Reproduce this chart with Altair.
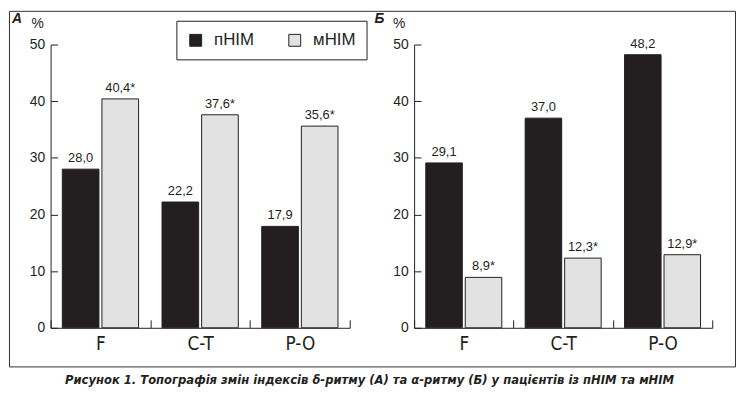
import altair as alt
import pandas as pd

categories = ["F", "C-T", "P-O"]
groups = ["пНІМ", "мНІМ"]
colors = ["#231f20", "#e2e2e2"]

a_pnim = [28.0, 22.2, 17.9]
a_mnim = [40.4, 37.6, 35.6]
a_pnim_labels = ["28,0", "22,2", "17,9"]
a_mnim_labels = ["40,4*", "37,6*", "35,6*"]

b_pnim = [29.1, 37.0, 48.2]
b_mnim = [8.9, 12.3, 12.9]
b_pnim_labels = ["29,1", "37,0", "48,2"]
b_mnim_labels = ["8,9*", "12,3*", "12,9*"]

y_ticks = [0, 10, 20, 30, 40, 50]
caption = "Рисунок 1. Топографія змін індексів δ-ритму (А) та α-ритму (Б) у пацієнтів із пНІМ та мНІМ"

W, H = 733, 359
Y_RANGE = [320, 34]
INK = "#231f20"
FONT = "Liberation Sans, Arial, sans-serif"
NARROW = "Liberation Sans Narrow, DejaVu Sans Condensed, Liberation Sans, sans-serif"


def frame(p, m, pl, ml):
    rows = []
    for c, v, l in zip(categories, p, pl):
        rows.append({"cat": c, "group": groups[0], "value": v, "label": l})
    for c, v, l in zip(categories, m, ml):
        rows.append({"cat": c, "group": groups[1], "value": v, "label": l})
    return pd.DataFrame(rows)


legend = alt.Legend(
    title=None, orient="none", legendX=169, legendY=10, direction="horizontal",
    strokeColor=INK, fillColor="white", padding=11,
    symbolType="square", symbolSize=144, symbolStrokeColor=INK, symbolStrokeWidth=1,
    labelFontSize=17, labelFont=FONT, labelColor=INK, labelOffset=10, columnPadding=32,
)
color = alt.Color("group:N", scale=alt.Scale(domain=groups, range=colors), sort=groups, legend=legend)


def panel(df, xrange, yaxis_x):
    xs = alt.Scale(domain=categories, range=xrange, paddingInner=0, paddingOuter=0)
    xos = alt.Scale(domain=groups, paddingInner=0.075, paddingOuter=0.296)
    band = (xrange[1] - xrange[0]) / 3.0
    step = band / 2.517
    xos_text = alt.Scale(type="point", domain=groups,
                         range=[0.296 * step + 0.4625 * step, 1.296 * step + 0.4625 * step],
                         padding=0)
    ys = alt.Scale(domain=[0, 50], range=Y_RANGE, nice=False, zero=True)
    bars = alt.Chart(df).mark_bar(stroke=INK, strokeWidth=1).encode(
        x=alt.X("cat:N", scale=xs, sort=categories,
                axis=alt.Axis(title=None, orient="bottom", offset=-39, domain=True, ticks=False,
                              labels=False, grid=False, domainColor=INK)),
        xOffset=alt.XOffset("group:N", scale=xos, sort=groups),
        y=alt.Y("value:Q", scale=ys,
                axis=alt.Axis(title=None, orient="left", offset=-yaxis_x, domain=True, ticks=False,
                              labels=False, grid=False, domainColor=INK)),
        color=color,
    )
    text = alt.Chart(df).mark_text(baseline="alphabetic", dy=-7, fontSize=13, font=FONT, color=INK).encode(
        x=alt.X("cat:N", scale=xs, sort=categories, bandPosition=0,
                axis=alt.Axis(title=None, orient="bottom", offset=-47, domain=False, ticks=True,
                              tickBand="extent", tickSize=8, tickColor=INK, labelPadding=7,
                              labelAngle=0, labelFontSize=19, labelFont=NARROW, labelColor=INK,
                              grid=False)),
        xOffset=alt.XOffset("group:N", scale=xos_text, sort=groups),
        y=alt.Y("value:Q", scale=ys,
                axis=alt.Axis(title=None, orient="left", offset=-(yaxis_x + 7), domain=False,
                              values=y_ticks, tickSize=7, tickColor=INK, labelPadding=6,
                              labelFontSize=14, labelFont=FONT, labelColor=INK, grid=False)),
        text="label:N",
    )
    return [bars, text]


def note(t, x, y, size, bold=True, italic=True, font=FONT):
    return alt.Chart(pd.DataFrame({"t": [t]})).mark_text(
        fontSize=size, font=font, fontWeight="bold" if bold else "normal",
        fontStyle="italic" if italic else "normal", color=INK, align="center", baseline="middle",
    ).encode(x=alt.value(x), y=alt.value(y), text="t:N")


df_a = frame(a_pnim, a_mnim, a_pnim_labels, a_mnim_labels)
df_b = frame(b_pnim, b_mnim, b_pnim_labels, b_mnim_labels)

layers = panel(df_a, [42, 344], 42) + panel(df_b, [409, 710], 409) + [
    note("А", 8, 8, 14),
    note("Б", 374, 8, 14),
    note("%", 29, 13, 14, bold=False, italic=False),
    note("%", 394, 13, 14, bold=False, italic=False),
    note(caption, 364, 373, 13, font=NARROW),
]

chart = alt.layer(*layers).resolve_scale(
    x="independent", y="independent", xOffset="independent"
).resolve_axis(x="independent", y="independent").properties(
    width=W, height=H,
    autosize=alt.AutoSizeParams(type="none"),
    padding={"left": 1, "top": 1, "right": 2, "bottom": 28},
).configure_view(stroke="#333333", strokeWidth=1)

chart.save("out.html", embed_options={"renderer": "svg", "actions": False})
